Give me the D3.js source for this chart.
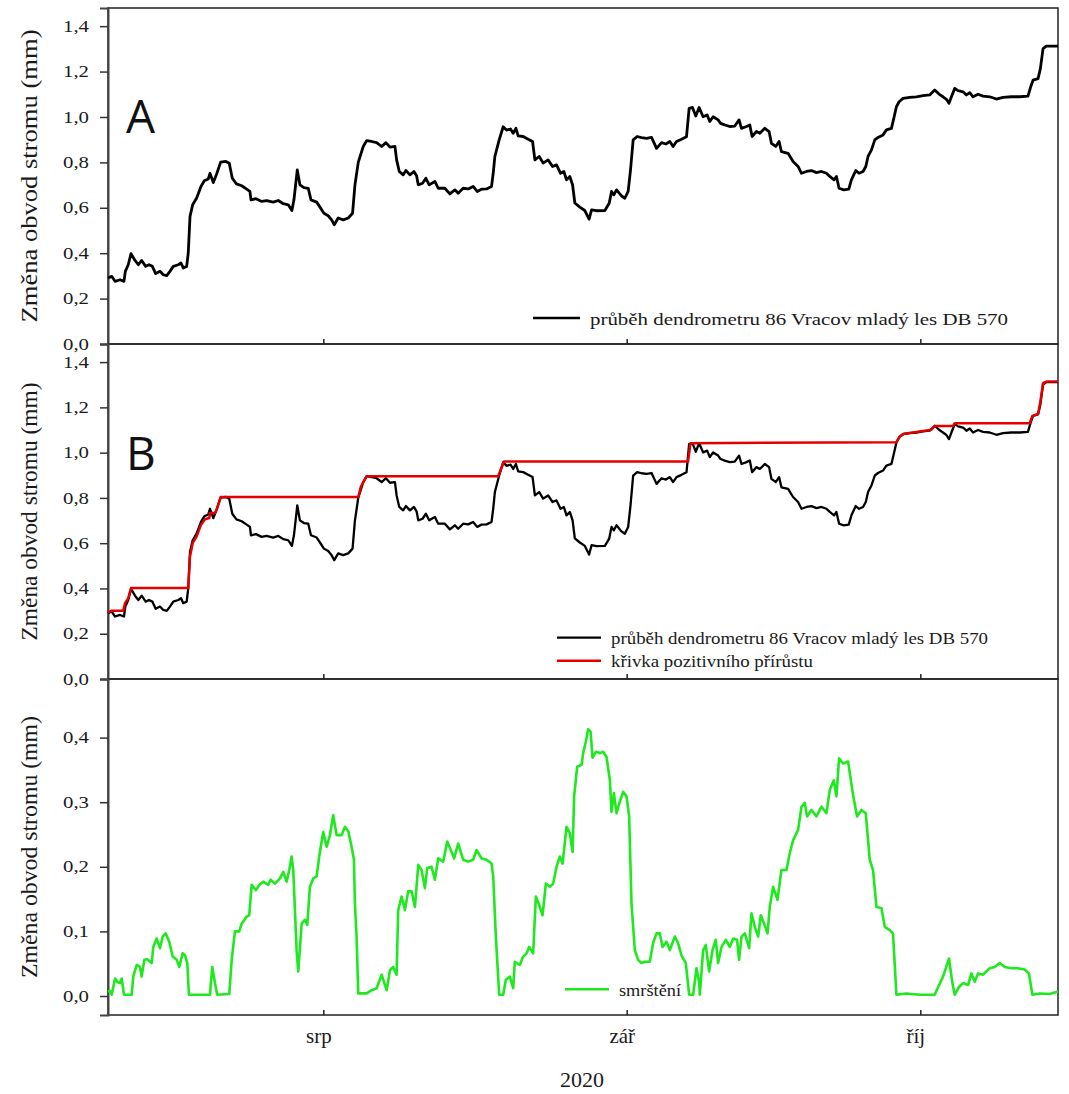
<!DOCTYPE html>
<html>
<head>
<meta charset="utf-8">
<script src="https://cdn.jsdelivr.net/npm/d3@7"></script>
<style>
body { margin: 0; background: #fff; }
svg text { font-family: 'Times New Roman', 'Liberation Serif', Tinos, 'DejaVu Serif', serif; }
</style>
</head>
<body>
<svg id="chart" width="1069" height="1094" font-family="Times New Roman, Liberation Serif, serif"></svg>
<script>
// time is given in days counted from 10 July 2020 00:00
var dendroDays = [0,0.38,0.72,1.23,1.63,1.77,2.07,2.35,2.76,3.10,3.44,3.85,4.19,4.53,4.87,5.31,5.65,6.00,6.33,6.67,
    7.18,7.46,7.69,8.04,8.20,8.38,8.65,9.06,9.50,9.84,10.25,10.42,10.76,11.10,11.51,12.05,12.39,12.70,13.12,13.66,
    14.17,14.50,14.61,15.12,15.70,16.21,16.88,17.40,17.91,18.42,18.79,19.00,19.34,19.61,20.02,20.46,20.74,21.32,21.66,22.06,
    22.50,22.85,23.12,23.52,24.03,24.55,24.99,25.23,25.57,26.08,26.43,26.94,27.45,27.96,28.40,28.81,29.32,29.49,29.76,30.16,
    30.44,30.85,31.26,31.53,31.70,32.14,32.48,32.82,33.40,33.74,34.42,34.93,35.44,35.78,36.29,36.80,37.31,37.72,38.17,38.68,
    39.19,39.36,39.53,39.97,40.38,40.72,41.13,41.40,41.68,41.91,42.42,42.93,43.38,43.62,44.06,44.46,44.97,45.42,45.83,46.24,
    46.58,46.85,47.19,47.47,47.70,48.21,48.72,49.16,49.41,49.92,50.77,51.21,51.45,51.69,51.96,52.47,52.81,53.15,53.39,53.66,
    54.07,54.51,55.03,55.54,56.05,56.56,57.00,57.41,57.74,58.09,58.60,59.11,59.38,59.72,60.06,60.40,60.81,61.22,61.49,61.83,
    62.34,62.59,63.02,63.53,64.04,64.48,64.73,65.24,65.58,65.81,66.26,66.60,67.11,67.55,67.79,68.23,68.57,68.81,69.49,70.00,
    70.51,70.86,71.37,71.88,72.39,72.90,73.41,73.75,74.19,74.43,74.70,75.18,75.69,75.96,76.40,76.74,77.15,77.43,77.66,78.01,
    78.35,78.68,79.19,79.54,80.05,80.29,80.56,80.83,81.24,81.92,82.60,83.28,83.96,84.47,84.91,85.32,85.67,85.93,86.18,86.52,
    86.86,87.37,87.71,88.05,88.39,88.90,89.41,90.09,90.78,91.45,92.31,93.16,94.00,94.28,94.52,95.03,95.27,95.54,95.88,96.56,
    97.07]
var dendroVals = [0.291,0.298,0.276,0.283,0.276,0.320,0.349,0.398,0.368,0.349,0.368,0.342,0.349,0.342,0.310,0.320,0.305,0.301,0.320,0.342,
    0.349,0.357,0.335,0.342,0.401,0.562,0.613,0.643,0.694,0.719,0.727,0.752,0.711,0.749,0.801,0.804,0.796,0.730,0.705,0.697,
    0.682,0.672,0.635,0.640,0.628,0.632,0.625,0.632,0.618,0.613,0.588,0.635,0.767,0.701,0.689,0.686,0.635,0.625,0.603,0.576,
    0.565,0.547,0.525,0.555,0.547,0.555,0.576,0.700,0.800,0.870,0.896,0.892,0.887,0.870,0.887,0.867,0.870,0.811,0.760,0.745,
    0.764,0.745,0.760,0.741,0.701,0.708,0.730,0.701,0.716,0.686,0.686,0.661,0.679,0.664,0.686,0.683,0.694,0.672,0.682,0.683,
    0.694,0.752,0.826,0.899,0.957,0.942,0.947,0.928,0.950,0.917,0.914,0.902,0.892,0.811,0.826,0.797,0.811,0.782,0.789,0.752,
    0.760,0.723,0.738,0.701,0.621,0.603,0.588,0.550,0.591,0.587,0.588,0.620,0.672,0.657,0.679,0.652,0.642,0.672,0.767,0.899,
    0.914,0.909,0.906,0.910,0.862,0.887,0.881,0.892,0.870,0.892,0.902,0.913,1.038,1.042,1.004,1.042,1.001,1.009,0.980,1.001,
    0.987,0.972,0.965,0.958,0.960,0.987,0.950,0.958,0.965,0.914,0.936,0.928,0.950,0.936,0.884,0.870,0.892,0.847,0.840,0.804,
    0.782,0.752,0.760,0.764,0.755,0.760,0.752,0.738,0.723,0.738,0.686,0.679,0.682,0.723,0.764,0.752,0.760,0.782,0.826,0.855,
    0.899,0.910,0.921,0.943,0.950,0.994,1.045,1.067,1.082,1.086,1.089,1.094,1.097,1.119,1.101,1.089,1.078,1.060,1.089,1.126,
    1.116,1.111,1.097,1.107,1.089,1.100,1.092,1.089,1.079,1.086,1.089,1.089,1.092,1.133,1.162,1.169,1.213,1.301,1.312,1.312,
    1.312]

var growthDays = [0,0.38,1.56,1.74,2.07,2.35,8.20,8.38,8.65,9.06,9.50,9.91,10.35,10.42,10.93,11.10,11.51,25.57,25.84,26.43,
    39.87,40.45,59.27,59.52,80.56,80.90,81.31,82.26,83.28,84.14,84.47,86.34,86.52,94.18,94.45,95.03,95.27,95.54,95.88,97.07]
var growthVals = [0.294,0.302,0.302,0.335,0.357,0.402,0.402,0.541,0.600,0.630,0.681,0.706,0.711,0.733,0.733,0.747,0.804,0.804,0.850,0.896,
    0.896,0.961,0.961,1.042,1.046,1.071,1.083,1.089,1.096,1.101,1.118,1.118,1.130,1.130,1.162,1.171,1.226,1.307,1.314,1.314]

var shrinkDays = [0.00,0.20,0.38,0.72,0.95,1.23,1.40,1.63,2.42,2.58,2.93,3.27,3.44,3.71,4.01,4.46,4.63,4.97,5.31,5.59,
    5.89,6.26,6.61,7.02,7.28,7.63,7.87,8.10,8.27,10.42,10.65,10.93,11.16,12.39,12.64,12.97,13.41,13.66,14.17,14.43,
    14.68,15.12,15.46,15.86,16.37,16.62,17.06,17.57,17.91,18.25,18.52,18.76,18.93,19.27,19.44,19.79,20.12,20.36,20.63,20.97,
    21.32,21.58,21.99,22.34,22.68,23.01,23.36,23.87,24.21,24.55,24.89,25.13,25.23,25.40,25.57,26.43,26.94,27.45,27.96,28.47,
    28.81,29.14,29.49,29.65,30.00,30.34,30.67,31.02,31.36,31.70,32.04,32.38,32.62,33.06,33.40,33.74,34.25,34.66,35.11,35.37,
    35.78,36.29,36.80,37.31,37.66,38.17,38.68,39.19,39.36,39.63,39.97,40.38,40.65,41.06,41.40,41.57,42.08,42.42,42.77,43.03,
    43.44,43.72,44.06,44.40,44.74,45.15,45.49,45.83,46.17,46.45,46.85,47.19,47.47,47.63,47.94,48.39,48.55,48.83,49.06,49.31,
    49.51,49.85,50.26,50.59,50.94,51.28,51.45,51.69,51.96,52.30,52.64,52.98,53.25,53.49,53.83,54.17,54.51,54.85,55.36,55.70,
    56.05,56.38,56.66,57.07,57.41,57.92,58.25,58.60,59.04,59.38,59.79,60.13,60.40,60.47,60.81,61.08,61.42,61.77,62.10,62.34,
    62.69,63.13,63.53,63.88,64.28,64.48,64.73,65.07,65.51,65.75,66.09,66.43,66.70,67.04,67.39,67.62,67.96,68.41,68.81,69.32,
    69.66,70.00,70.51,70.86,71.19,71.43,71.88,72.39,72.90,73.41,73.75,74.16,74.43,74.70,75.11,75.62,76.13,76.54,76.99,77.43,
    77.83,78.17,78.52,79.03,79.37,79.88,80.21,80.56,81.58,82.94,84.47,85.32,85.93,86.28,86.52,86.96,87.37,87.88,88.22,88.56,
    88.90,89.41,90.09,90.60,91.11,91.63,92.31,92.98,93.66,94.10,94.45,95.20,96.22,97.07]
var shrinkVals = [0.007,0.008,0.002,0.027,0.022,0.020,0.027,0.002,0.002,0.030,0.048,0.045,0.030,0.056,0.057,0.051,0.076,0.089,0.074,0.092,
    0.097,0.084,0.061,0.056,0.045,0.066,0.063,0.051,0.002,0.002,0.045,0.020,0.002,0.003,0.056,0.100,0.100,0.112,0.123,0.125,
    0.172,0.164,0.172,0.177,0.172,0.180,0.174,0.182,0.192,0.177,0.195,0.216,0.195,0.071,0.038,0.112,0.118,0.110,0.169,0.182,
    0.185,0.216,0.254,0.231,0.249,0.280,0.249,0.249,0.262,0.255,0.231,0.211,0.143,0.092,0.004,0.004,0.009,0.012,0.033,0.009,
    0.040,0.045,0.033,0.133,0.154,0.133,0.162,0.162,0.138,0.203,0.195,0.167,0.198,0.200,0.180,0.213,0.208,0.239,0.223,0.213,
    0.236,0.211,0.208,0.211,0.226,0.213,0.211,0.205,0.185,0.092,0.002,0.002,0.025,0.030,0.012,0.053,0.048,0.061,0.066,0.076,
    0.066,0.154,0.141,0.125,0.174,0.169,0.174,0.200,0.216,0.205,0.262,0.252,0.223,0.309,0.355,0.358,0.376,0.394,0.413,0.409,
    0.369,0.378,0.376,0.378,0.370,0.334,0.285,0.314,0.283,0.301,0.316,0.309,0.278,0.143,0.071,0.056,0.051,0.053,0.053,0.082,
    0.097,0.097,0.076,0.084,0.071,0.092,0.082,0.063,0.051,0.002,0.002,0.043,0.022,0.002,0.071,0.079,0.038,0.071,0.087,0.051,
    0.076,0.087,0.076,0.089,0.087,0.056,0.092,0.097,0.074,0.128,0.107,0.092,0.125,0.112,0.097,0.138,0.169,0.149,0.195,0.195,
    0.221,0.241,0.257,0.293,0.299,0.278,0.288,0.278,0.293,0.283,0.319,0.334,0.309,0.368,0.360,0.363,0.311,0.278,0.288,0.283,
    0.211,0.195,0.138,0.136,0.107,0.102,0.097,0.002,0.004,0.002,0.002,0.030,0.058,0.020,0.002,0.014,0.020,0.017,0.035,0.022,
    0.035,0.033,0.043,0.045,0.051,0.045,0.043,0.043,0.041,0.035,0.002,0.004,0.003,0.007]

var monthNames = ["srp", "zář", "říj"]
var monthStarts = [new Date(Date.UTC(2020, 7, 1)), new Date(Date.UTC(2020, 8, 1)), new Date(Date.UTC(2020, 9, 1))]
var growthTicks = [0, 0.2, 0.4, 0.6, 0.8, 1.0, 1.2, 1.4]
var shrinkTicks = [0, 0.1, 0.2, 0.3, 0.4]
var yTitle = "Změna obvod stromu (mm)"
var legendA = ["průběh dendrometru 86 Vracov mladý les DB 570"]
var legendB = ["průběh dendrometru 86 Vracov mladý les DB 570", "křivka pozitivního přírůstu"]
var legendC = ["smrštění"]

var serif = "Times New Roman, Liberation Serif, Tinos, DejaVu Serif, serif"
var sans = "Open Sans, Noto Sans, sans-serif"

var start = Date.UTC(2020, 6, 10)
function toDate(d){ return new Date(start + d * 864e5) }
function pairs(days, vals){ return d3.zip(days, vals) }

var svg = d3.select('#chart')
var left = 108, right = 1058

var x = d3.scaleUtc()
    .domain([new Date(start), new Date(Date.UTC(2020, 9, 15, 1, 40))])
    .range([left, right])

var fmt = function(v){ return d3.format('.1f')(v).replace('.', ',') }

var panels = [
    {top: 8, bottom: 344, domain: [0, 1.48], ticks: growthTicks, letter: 'A', titleLen: 293},
    {top: 344, bottom: 679, domain: [0, 1.48], ticks: growthTicks, letter: 'B', titleLen: 258},
    {top: 679, bottom: 1015, domain: [-0.0294, 0.4907], ticks: shrinkTicks, letter: '', titleLen: 262}
]

panels.forEach(function(p, i){
    p.y = d3.scaleLinear().domain(p.domain).range([p.bottom, p.top])

    // frame
    svg.append('rect')
        .attr('x', left).attr('y', p.top)
        .attr('width', right - left).attr('height', p.bottom - p.top)
        .attr('fill', 'none').attr('stroke', '#222').attr('stroke-width', 1.5)

    var ya = svg.append('g')
        .attr('transform', 'translate(' + left + ',0)')
        .call(d3.axisLeft(p.y).tickValues(p.ticks).tickSize(8).tickPadding(11).tickFormat(fmt))
    ya.attr('font-family', serif).attr('font-size', 16)
    ya.select('.domain').attr('stroke', '#444').attr('stroke-width', 2)
    ya.selectAll('.tick line').attr('stroke', '#333').attr('stroke-width', 1.5)
    ya.selectAll('.tick text')
        .attr('font-family', serif).attr('fill', '#1a1a1a')
        .attr('textLength', 26).attr('lengthAdjust', 'spacingAndGlyphs')

    var xa = svg.append('g')
        .attr('transform', 'translate(0,' + p.bottom + ')')
        .call(d3.axisBottom(x).tickValues(monthStarts).tickSize(-5)
            .tickFormat(function(d, k){ return i == 2 ? monthNames[k] : '' }))
    xa.attr('font-family', serif).attr('font-size', 21)
    xa.select('.domain').remove()
    xa.selectAll('.tick line').attr('stroke', '#222').attr('stroke-width', 1.5)
    xa.selectAll('.tick text')
        .attr('font-family', serif).attr('fill', '#1a1a1a')
        .attr('y', 28).attr('dy', 0).attr('dx', -5)

    svg.append('text')
        .attr('transform', 'translate(37,' + (p.top + p.bottom) / 2 + ') rotate(-90)')
        .attr('text-anchor', 'middle')
        .attr('font-family', serif).attr('font-size', 23).attr('fill', '#1a1a1a')
        .attr('textLength', p.titleLen).attr('lengthAdjust', 'spacingAndGlyphs')
        .text(yTitle)

    if(p.letter){
        svg.append('text')
            .attr('x', 126).attr('y', p.top + (i == 0 ? 124.7 : 126))
            .attr('font-size', 46).attr('fill', '#111')
            .style('font-family', sans)
            .text(p.letter)
    }
})

var A = panels[0], B = panels[1], C = panels[2]

function drawLine(panel, data, color, width){
    var line = d3.line()
        .x(function(d){ return x(toDate(d[0])) })
        .y(function(d){ return panel.y(d[1]) })
    svg.append('path')
        .datum(data)
        .attr('d', line)
        .attr('fill', 'none')
        .attr('stroke', color)
        .attr('stroke-width', width)
        .attr('stroke-linejoin', 'round')
}

drawLine(A, pairs(dendroDays, dendroVals), '#000', 2.8)
drawLine(B, pairs(dendroDays, dendroVals), '#000', 2.3)
drawLine(B, pairs(growthDays, growthVals), '#e50000', 2.5)
drawLine(C, pairs(shrinkDays, shrinkVals), '#1ee81e', 2.6)

// legends
function legendRow(x1, x2, ly, color, width, label, tlen){
    svg.append('line')
        .attr('x1', x1).attr('x2', x2).attr('y1', ly).attr('y2', ly)
        .attr('stroke', color).attr('stroke-width', width)
    svg.append('text')
        .attr('x', x2 + 10).attr('y', ly + 6.5)
        .attr('font-family', serif).attr('font-size', 17).attr('fill', '#1a1a1a')
        .attr('textLength', tlen).attr('lengthAdjust', 'spacingAndGlyphs')
        .text(label)
}
legendRow(533, 580, 318, '#000', 2.6, legendA[0], 418)
legendRow(557, 601, 637.7, '#000', 2.2, legendB[0], 377)
legendRow(557, 601, 660.7, '#e50000', 2.6, legendB[1], 202)
legendRow(565, 609, 989.3, '#1ee81e', 2.6, legendC[0], 62)

svg.append('text')
    .attr('x', 582).attr('y', 1087)
    .attr('text-anchor', 'middle')
    .attr('font-family', serif).attr('font-size', 22).attr('fill', '#1a1a1a')
    .text('2020')
</script>
</body>
</html>
